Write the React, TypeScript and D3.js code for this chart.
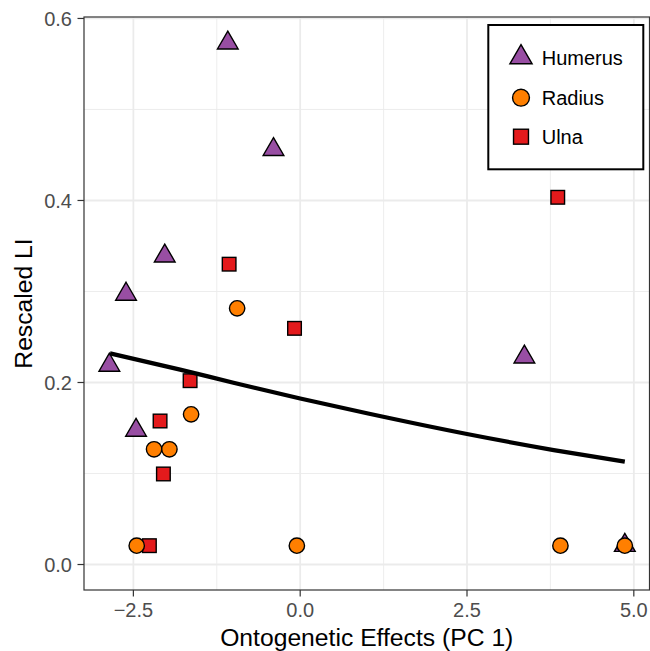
import React from "react";
import * as d3 from "d3";

const humerusX = [-1.085, -0.40, -2.03, -2.61, -2.86, -2.46, 3.36, 4.865];
const humerusY = [0.573, 0.456, 0.339, 0.297, 0.219, 0.1475, 0.228, 0.021];
const radiusX = [-0.945, -1.635, -2.19, -1.96, -2.45, -0.05, 3.9, 4.865];
const radiusY = [0.2815, 0.165, 0.1266, 0.1266, 0.0207, 0.0207, 0.0207, 0.0207];
const ulnaX = [-1.065, -0.085, -1.65, -2.1, -2.05, -2.26, 3.86];
const ulnaY = [0.330, 0.2595, 0.202, 0.1577, 0.0995, 0.0207, 0.4035];
const fitX = [-2.85, -1.8, -1.0, 0, 1.0, 2.5, 3.8, 4.865];
const fitY = [0.2321, 0.2142, 0.1997, 0.1824, 0.1662, 0.1434, 0.1258, 0.113];
const xTicks = [-2.5, 0, 2.5, 5];
const xMinor = [-1.25, 1.25, 3.75];
const yTicks = [0, 0.2, 0.4, 0.6];
const yMinor = [0.1, 0.3, 0.5];
const legendLabels = ["Humerus", "Radius", "Ulna"];
const colors = { Humerus: "#984EA3", Radius: "#FF7F00", Ulna: "#E41A1C" };

const W = 650, H = 651;
const L = 84, R = 649.5, T = 17, B = 590;

function Triangle({ cx, cy, s, fill }: any) {
  const r = 0.583 * s, xc = 0.505 * s, yc = 0.2915 * s;
  return (
    <path
      d={`M${cx},${cy - r}L${cx + xc},${cy + yc}L${cx - xc},${cy + yc}Z`}
      fill={fill} stroke="#000" strokeWidth={1.4} strokeLinejoin="miter"
    />
  );
}
function Circle({ cx, cy, s, fill }: any) {
  return <circle cx={cx} cy={cy} r={0.375 * s} fill={fill} stroke="#000" strokeWidth={1.4} />;
}
function Square({ cx, cy, s, fill }: any) {
  const h = 0.332 * s;
  return <rect x={cx - h} y={cy - h} width={2 * h} height={2 * h} fill={fill} stroke="#000" strokeWidth={1.4} />;
}

export default function App() {
  const x = d3.scaleLinear().domain([-3.24, 5.235]).range([L, R]);
  const y = d3.scaleLinear().domain([-0.028, 0.6016]).range([B, T]);
  const line = d3.line<number>()
    .x((_, i) => x(fitX[i]))
    .y((d) => y(d))
    .curve(d3.curveMonotoneX);
  const S = 20.5;
  const font = "Liberation Sans, Arial, sans-serif";
  return (
    <svg width={W} height={H} style={{ position: "absolute", left: 0, top: 0, background: "#fff" }}>
      <defs>
        <clipPath id="panel"><rect x={L} y={T} width={R - L} height={B - T} /></clipPath>
      </defs>
      <rect x={0} y={0} width={W} height={H} fill="#fff" />
      <g clipPath="url(#panel)">
        {xMinor.map((v) => (
          <line key={"xm" + v} x1={x(v)} x2={x(v)} y1={T} y2={B} stroke="#EBEBEB" strokeWidth={0.9} />
        ))}
        {yMinor.map((v) => (
          <line key={"ym" + v} x1={L} x2={R} y1={y(v)} y2={y(v)} stroke="#EBEBEB" strokeWidth={0.9} />
        ))}
        {xTicks.map((v) => (
          <line key={"xg" + v} x1={x(v)} x2={x(v)} y1={T} y2={B} stroke="#EBEBEB" strokeWidth={1.8} />
        ))}
        {yTicks.map((v) => (
          <line key={"yg" + v} x1={L} x2={R} y1={y(v)} y2={y(v)} stroke="#EBEBEB" strokeWidth={1.8} />
        ))}
      </g>
      {humerusX.map((v, i) => (
        <Triangle key={"h" + i} cx={x(v)} cy={y(humerusY[i])} s={S} fill={colors.Humerus} />
      ))}
      {ulnaX.map((v, i) => (
        <Square key={"u" + i} cx={x(v)} cy={y(ulnaY[i])} s={S} fill={colors.Ulna} />
      ))}
      {radiusX.map((v, i) => (
        <Circle key={"r" + i} cx={x(v)} cy={y(radiusY[i])} s={S} fill={colors.Radius} />
      ))}
      <path d={line(fitY) || ""} fill="none" stroke="#000" strokeWidth={4.3} strokeLinecap="butt" />
      <rect x={L} y={T} width={R - L} height={B - T} fill="none" stroke="#333333" strokeWidth={1.2} />
      {xTicks.map((v) => (
        <g key={"xt" + v}>
          <line x1={x(v)} x2={x(v)} y1={B} y2={B + 6.5} stroke="#333333" strokeWidth={1.2} />
          <text x={x(v)} y={617} textAnchor="middle" fontFamily={font} fontSize={20} fill="#4D4D4D">
            {v === 0 ? "0.0" : v.toFixed(1).replace("-", "\u2212")}
          </text>
        </g>
      ))}
      {yTicks.map((v) => (
        <g key={"yt" + v}>
          <line x1={L - 6.5} x2={L} y1={y(v)} y2={y(v)} stroke="#333333" strokeWidth={1.2} />
          <text x={72} y={y(v) + 7.1} textAnchor="end" fontFamily={font} fontSize={20} fill="#4D4D4D">
            {v.toFixed(1)}
          </text>
        </g>
      ))}
      <text x={(L + R) / 2} y={646} textAnchor="middle" fontFamily={font} fontSize={24.7} fill="#000">
        Ontogenetic Effects (PC 1)
      </text>
      <text
        transform={`translate(31.7,${(T + B) / 2}) rotate(-90)`}
        textAnchor="middle" fontFamily={font} fontSize={24.7} fill="#000"
      >
        Rescaled LI
      </text>
      <rect x={488.3} y={25} width={155} height={144.3} fill="#fff" stroke="#000" strokeWidth={2} />
      {legendLabels.map((lab, i) => {
        const cy = [57.4, 97.7, 136.7][i];
        const base = [64.5, 105, 144][i];
        const fill = (colors as any)[lab];
        return (
          <g key={lab}>
            {i === 0 && <Triangle cx={521} cy={cy} s={22} fill={fill} />}
            {i === 1 && <Circle cx={521} cy={cy} s={22.5} fill={fill} />}
            {i === 2 && <Square cx={521} cy={cy} s={22.5} fill={fill} />}
            <text x={541.7} y={base} fontFamily={font} fontSize={20} fill="#000">{lab}</text>
          </g>
        );
      })}
    </svg>
  );
}
